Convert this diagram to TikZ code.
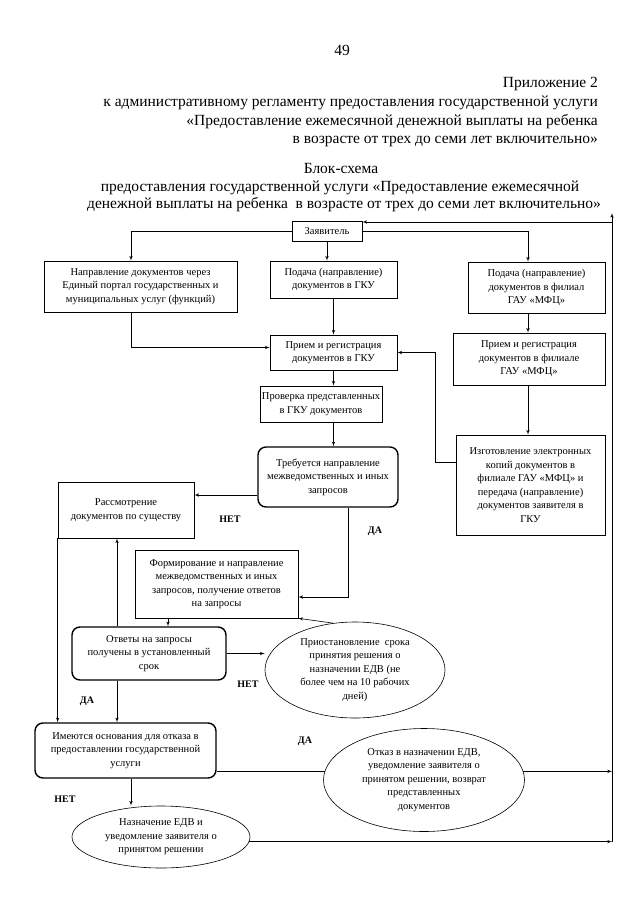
\documentclass[tikz,border=0pt]{standalone}
\usepackage{fontspec}
\setmainfont{Liberation Serif}
\usetikzlibrary{shapes, arrows, positioning}

\begin{document}
\begin{tikzpicture}[x=1pt, y=-1pt, font=\fontsize{10.5}{13.5}\selectfont]
  \tikzstyle{header} = [inner sep=0pt, font=\fontsize{15.5}{18.5}\selectfont]
  \tikzstyle{block} = [rectangle, draw, line width=0.6pt, align=center, inner sep=2pt]
  \tikzstyle{decision} = [rectangle, draw, line width=1.4pt, rounded corners=8pt, align=center, inner sep=2pt]
  \tikzstyle{outcome} = [ellipse, draw, line width=0.6pt, align=center, inner sep=0pt]
  \tikzstyle{answer} = [font=\fontsize{10}{12}\selectfont\bfseries]
  \tikzstyle{connector} = [draw, line width=0.6pt, -latex']
  \useasboundingbox [fill=white] (0,0) rectangle (640,905);
  % header
  \node [header, anchor=base] (pagenum) at (342,55) {49};
  \node [header, anchor=base east] (annex) at (598,87) {Приложение 2};
  \node [header, anchor=base east] (annexA) at (598,106) {к административному регламенту предоставления государственной услуги};
  \node [header, anchor=base east] (annexB) at (598,125) {«Предоставление ежемесячной денежной выплаты на ребенка};
  \node [header, anchor=base east] (annexC) at (598,143) {в возрасте от трех до семи лет включительно»};
  \node [header, anchor=base] (title) at (341,173) {Блок-схема};
  \node [header, anchor=base] (titleA) at (340,191) {предоставления государственной услуги «Предоставление ежемесячной};
  \node [header, anchor=base] (titleB) at (344,208) {денежной выплаты на ребенка\ \ в возрасте от трех до семи лет включительно»};
  % blocks
  \node [block, minimum width=70pt, minimum height=20pt] (applicant) at (327,231) {Заявитель};
  \node [block, minimum width=193pt, minimum height=51pt] (portal) at (140.5,286.5) {Направление документов через\\Единый портал государственных и\\муниципальных услуг (функций)};
  \node [block, minimum width=127pt, minimum height=37pt] (submitGKU) at (333.5,279.5) {Подача (направление)\\документов в ГКУ};
  \node [block, minimum width=137pt, minimum height=51pt] (submitMFC) at (536.5,287.5) {Подача (направление)\\документов в филиал\\ГАУ «МФЦ»};
  \node [block, minimum width=127pt, minimum height=35pt] (receiveGKU) at (333.5,352.5) {Прием и регистрация\\документов в ГКУ};
  \node [block, minimum width=152pt, minimum height=52pt] (receiveMFC) at (529,359) {Прием и регистрация\\документов в филиале\\ГАУ «МФЦ»};
  \node [block, minimum width=122pt, minimum height=36pt] (check) at (321,404) {Проверка представленных\\в ГКУ документов};
  \node [decision, minimum width=140pt, minimum height=60pt] (needQuery) at (328,477) {Требуется направление\\межведомственных и иных\\запросов};
  \node [block, minimum width=149pt, minimum height=100pt] (scan) at (530.5,485) {Изготовление электронных\\копий документов в\\филиале ГАУ «МФЦ» и\\передача (направление)\\документов заявителя в\\ГКУ};
  \node [block, minimum width=136pt, minimum height=56pt] (review) at (126,510) {Рассмотрение\\документов по существу};
  \node [block, minimum width=163pt, minimum height=68pt] (query) at (216.5,584) {Формирование и направление\\межведомственных и иных\\запросов, получение ответов\\на запросы};
  \node [decision, minimum width=154pt, minimum height=53pt] (replies) at (149,653.5) {Ответы на запросы\\получены в установленный\\срок};
  \node [outcome, minimum width=180pt, minimum height=96pt] (suspend) at (355,670) {Приостановление\ \ срока\\принятия решения о\\назначении ЕДВ (не\\более чем на 10 рабочих\\дней)};
  \node [decision, minimum width=181pt, minimum height=55pt] (grounds) at (125.5,750.5) {Имеются основания для отказа в\\предоставлении государственной\\услуги};
  \node [outcome, minimum width=201pt, minimum height=103pt] (refusal) at (424,780) {Отказ в назначении ЕДВ,\\уведомление заявителя о\\принятом решении, возврат\\представленных\\документов};
  \node [outcome, minimum width=178pt, minimum height=62pt] (grant) at (161,837) {Назначение ЕДВ и\\уведомление заявителя о\\принятом решении};
  % labels
  \node [answer] (noQuery) at (230,519) {НЕТ};
  \node [answer] (yesQuery) at (375,531) {ДА};
  \node [answer] (noReply) at (248,684) {НЕТ};
  \node [answer] (yesReply) at (87,701) {ДА};
  \node [answer] (yesGrounds) at (305,741) {ДА};
  \node [answer] (noGrounds) at (65,799) {НЕТ};
  % right rail
  \coordinate (railTop) at (612,213);
  \coordinate (railIn) at (612,222);
  \coordinate (railBottom) at (612,842);
  % connectors
  \path [connector] (applicant.west) -| ([xshift=-9.5pt]portal.north);
  \path [connector] (applicant.south) -- (applicant.south |- submitGKU.north);
  \path [connector] (applicant.east) -| ([xshift=-8.5pt]submitMFC.north);
  \path [connector] ([xshift=-9.5pt]portal.south) |- ([yshift=5pt]receiveGKU.west);
  \path [connector] (submitGKU) -- (receiveGKU);
  \path [connector] ([xshift=-8.5pt]submitMFC.south) -- ([xshift=-8.5pt]submitMFC.south |- receiveMFC.north);
  \path [connector] ([xshift=-8.5pt]submitMFC.south |- receiveMFC.south) -- ([xshift=-8.5pt]submitMFC.south |- scan.north);
  \path [connector] ([yshift=23pt]scan.west) -| (435,352.5) -- (receiveGKU.east);
  \path [connector] (receiveGKU.south) -- (receiveGKU.south |- check.north);
  \path [connector] (receiveGKU.south |- check.south) -- (receiveGKU.south |- needQuery.north);
  \path [connector] ([yshift=-18pt]needQuery.west) -- ([yshift=-18pt]needQuery.west -| review.east);
  \path [connector] ([xshift=20pt]needQuery.south) |- ([yshift=-13pt]query.east);
  \path [connector] ([xshift=-48.5pt]query.south) -- ([xshift=-48.5pt]query.south |- replies.north);
  \path [connector] ([xshift=-32pt]replies.north) -- ([xshift=-32pt]replies.north |- review.south);
  \path [connector] (replies.east) -- (replies.east -| suspend.west);
  \path [connector] (suspend.115) -- (query.south east);
  \path [connector] (review.south west) -- (review.south west |- grounds.north);
  \path [connector] ([xshift=-32pt]replies.south) -- ([xshift=-32pt]replies.south |- grounds.north);
  \path [draw, line width=0.6pt] (grounds.east |- refusal.175) -- (refusal.175);
  \path [connector] ([xshift=5.5pt]grounds.south) -- ([xshift=5.5pt]grounds.south |- grant.north);
  \path [connector] (refusal.5) -- (refusal.5 -| railTop);
  \path [connector] (grant.-3) -- (grant.-3 -| railTop);
  \path [connector] (railBottom) -- (railTop);
  \path [connector] (railIn) -- (railIn -| applicant.east);
\end{tikzpicture}
\end{document}
